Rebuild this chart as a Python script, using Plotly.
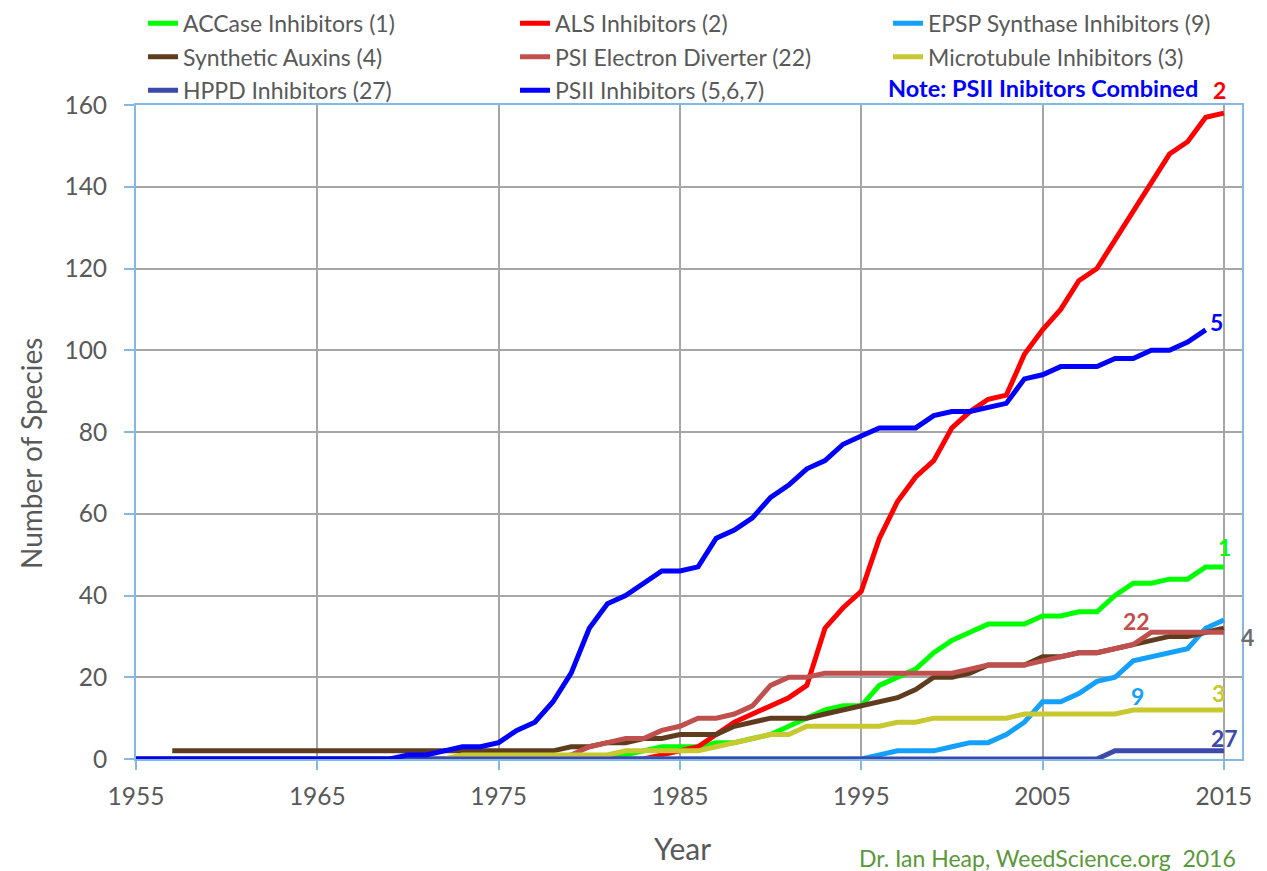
import plotly.graph_objects as go

FONT = "Lato"
GRAY = "#595959"

# ---- data (number of resistant species per year) ----
accase_years = list(range(1955, 2016))
accase = [0]*27 + [1, 2, 3, 3, 3, 4, 4, 5, 6, 8, 10, 12, 13, 13, 18, 20, 22, 26, 29, 31,
                   33, 33, 33, 35, 35, 36, 36, 40, 43, 43, 44, 44, 47, 47]

als_years = list(range(1955, 2016))
als = [0]*29 + [1, 2, 3, 6, 9, 11, 13, 15, 18, 32, 37, 41, 54, 63, 69, 73, 81, 85, 88, 89,
                99, 105, 110, 117, 120, 127, 134, 141, 148, 151, 157, 158]

epsp_years = list(range(1955, 2016))
epsp = [0]*41 + [1, 2, 2, 2, 3, 4, 4, 6, 9, 14, 14, 16, 19, 20, 24, 25, 26, 27, 32, 34]

auxin_years = list(range(1957, 2016))
auxin = [2]*22 + [3, 3, 4, 4, 5, 5, 6, 6, 6, 8, 9, 10, 10, 10, 11, 12, 13, 14, 15, 17, 20,
                  20, 21, 23, 23, 23, 25, 25, 26, 26, 27, 28, 29, 30, 30, 31, 32]

psi_years = list(range(1955, 2016))
psi = [0]*24 + [1, 3, 4, 5, 5, 7, 8, 10, 10, 11, 13, 18, 20, 20, 21, 21, 21, 21, 21, 21,
                21, 21, 22, 23, 23, 23, 24, 25, 26, 26, 27, 28, 31, 31, 31, 31, 31]

micro_years = list(range(1955, 2016))
micro = [0]*18 + [1, 1, 1, 1, 1, 1, 1, 1, 1, 2, 2, 2, 2, 2, 3, 4, 5, 6, 6, 8, 8, 8, 8, 8,
                  9, 9, 10, 10, 10, 10, 10, 11, 11, 11, 11, 11, 11, 12, 12, 12, 12, 12, 12]

hppd_years = list(range(1955, 2016))
hppd = [0]*54 + [2, 2, 2, 2, 2, 2, 2]

psii_years = list(range(1955, 2015))
psii = [0]*15 + [1, 1, 2, 3, 3, 4, 7, 9, 14, 21, 32, 38, 40, 43, 46, 46, 47, 54, 56, 59,
                 64, 67, 71, 73, 77, 79, 81, 81, 81, 84, 85, 85, 86, 87, 93, 94, 96, 96, 96,
                 98, 98, 100, 100, 102, 105]

x_ticks = [1955, 1965, 1975, 1985, 1995, 2005, 2015]

series = [
    ("ACCase Inhibitors (1)", accase_years, accase, "#00ff00", "legend", "1"),
    ("ALS Inhibitors (2)", als_years, als, "#ff0000", "legend2", "2"),
    ("EPSP Synthase Inhibitors (9)", epsp_years, epsp, "#14a0ff", "legend3", "9"),
    ("Synthetic Auxins (4)", auxin_years, auxin, "#603c1e", "legend", "4"),
    ("PSI Electron Diverter (22)", psi_years, psi, "#c0504d", "legend2", "22"),
    ("Microtubule Inhibitors (3)", micro_years, micro, "#c8c830", "legend3", "3"),
    ("HPPD Inhibitors (27)", hppd_years, hppd, "#3b4aab", "legend", "27"),
    ("PSII Inhibitors (5,6,7)", psii_years, psii, "#0000ff", "legend2", "5"),
]

# page offset (default body margin) and plot-area geometry in screen pixels
OFF = 8
FIG_W, FIG_H = 1267 - OFF, 871 - OFF
L, R, T, B = 136, 1242, 105, 759
W, H = R - L, B - T


def px(xp):
    return (xp - L) / W


def py(yp):
    return (B - yp) / H


fig = go.Figure()
for name, xs, ys, color, leg, grp in series:
    fig.add_trace(go.Scatter(
        x=xs, y=ys, mode="lines", name=name,
        line=dict(color=color, width=5),
        legend=leg, legendgroup=grp,
    ))

# end-of-line labels (screen positions)
end_labels = [
    ("2", 1219, 90, "#ff0000"),
    ("5", 1216, 322, "#0000ff"),
    ("1", 1224, 547, "#00ff00"),
    ("22", 1136, 621, "#c0504d"),
    ("4", 1247, 637, "#6d6d6d"),
    ("9", 1137, 696, "#14a0ff"),
    ("3", 1218, 693, "#c8c830"),
    ("27", 1224, 738, "#3b4aab"),
]
for txt, x, y, c in end_labels:
    fig.add_annotation(x=px(x), y=py(y), xref="paper", yref="paper", text="<b>%s</b>" % txt,
                       showarrow=False, xanchor="center", yanchor="middle",
                       font=dict(family=FONT, size=23, color=c))

fig.add_annotation(x=px(1200), y=py(88), xref="paper", yref="paper",
                   xanchor="right", yanchor="middle", showarrow=False,
                   text="<b>Note: PSII Inibitors Combined</b>",
                   font=dict(family=FONT, size=23.5, color="#0000ff"))

fig.add_annotation(x=px(1238), y=py(858), xref="paper", yref="paper",
                   xanchor="right", yanchor="middle", showarrow=False,
                   text="Dr. Ian Heap, WeedScience.org  2016",
                   font=dict(family=FONT, size=23, color="#5a983a"))

# axis titles
fig.add_annotation(x=px(682), y=py(848), xref="paper", yref="paper",
                   xanchor="center", yanchor="middle", showarrow=False, text="Year",
                   font=dict(family=FONT, size=30, color=GRAY))
fig.add_annotation(x=px(31), y=py(454), xref="paper", yref="paper", textangle=-90,
                   xanchor="center", yanchor="middle", showarrow=False, text="Number of Species",
                   font=dict(family=FONT, size=28, color=GRAY))

axis_blue = "#86b8e4"
grid = "#a6a6a6"

fig.update_xaxes(
    range=[1955, 2016], tickmode="array", tickvals=x_ticks,
    showgrid=True, gridcolor=grid, gridwidth=2,
    showline=True, linecolor=axis_blue, linewidth=2, mirror=True,
    ticks="outside", ticklen=9, tickcolor=axis_blue, tickwidth=2,
    ticklabelstandoff=6,
    tickfont=dict(family=FONT, size=24.5, color=GRAY),
    zeroline=False,
)
fig.update_yaxes(
    range=[0, 160], dtick=20,
    showgrid=True, gridcolor=grid, gridwidth=2,
    showline=True, linecolor=axis_blue, linewidth=2, mirror=True,
    ticks="outside", ticklen=10, tickcolor=axis_blue, tickwidth=2,
    ticklabelstandoff=12,
    tickfont=dict(family=FONT, size=24.5, color=GRAY),
    zeroline=False,
)

leg_common = dict(
    yanchor="top", xanchor="left", y=1 + (T - 1.8) / H,
    bgcolor="rgba(0,0,0,0)", font=dict(family=FONT, size=23, color=GRAY),
    traceorder="grouped", tracegroupgap=0.6, itemwidth=30,
)
fig.update_layout(
    width=FIG_W, height=FIG_H,
    margin=dict(l=L - OFF, r=1267 - R, t=T - OFF, b=871 - B, autoexpand=False),
    paper_bgcolor="white", plot_bgcolor="white",
    showlegend=True,
    legend=dict(x=px(143), **leg_common),
    legend2=dict(x=px(515), **leg_common),
    legend3=dict(x=px(888), **leg_common),
)

fig.write_html("out.html")
